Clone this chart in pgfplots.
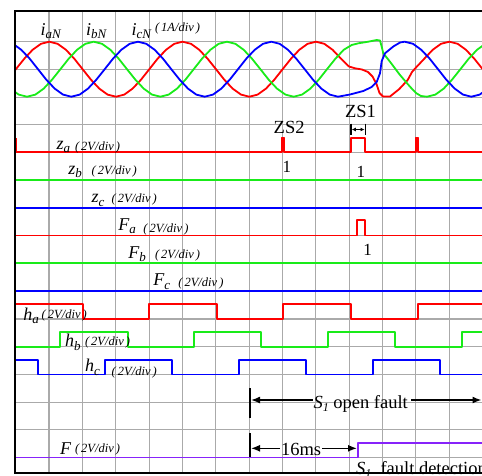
\documentclass[border=0pt]{standalone}
\usepackage{pgfplots}
\pgfplotsset{compat=1.18}
\usetikzlibrary{arrows.meta}
\usepackage{fontspec}
\setmainfont{Liberation Serif}
\definecolor{cr}{RGB}{255,0,0}
\definecolor{cg}{RGB}{25,235,25}
\definecolor{cb}{RGB}{0,0,255}
\definecolor{cp}{RGB}{135,35,250}
\definecolor{gridc}{RGB}{170,170,170}
\newcommand{\sig}[2]{\fontsize{18}{18}\selectfont\textit{#1}\raisebox{-3.5pt}{\fontsize{13}{13}\selectfont\textit{#2}}}
\newcommand{\dv}[1]{\fontsize{12.5}{12.5}\selectfont\textit{(\,#1\,)}}
\newcommand{\tx}{\fontsize{18.5}{18.5}\selectfont}
\begin{document}
\begin{tikzpicture}
\begin{axis}[x=1pt, y=1pt, y dir=reverse, xmin=0, xmax=482, ymin=0, ymax=475,
  hide axis, clip=false, enlargelimits=false, no markers,
  every axis plot/.append style={line width=1.8pt, line join=round}]
\coordinate (TL) at (axis cs:0,0);
\coordinate (BR) at (axis cs:482,475);
% grid
\pgfplotsinvokeforeach{49,82.4,115.7,149.1,182.4,215.8,249.2,282.5,315.9,349.2,382.6,415.9,449.3}{
  \draw[gridc, line width=1.1pt] (axis cs:#1,11) -- (axis cs:#1,473);}
\pgfplotsinvokeforeach{41.7,69.4,97.2,124.9,152.6,180.4,208.1,235.8,263.5,291.3,319.0,346.7,374.5,402.2,429.9,457.7}{
  \draw[gridc, line width=1.1pt] (axis cs:15,#1) -- (axis cs:482,#1);}
% currents
\addplot[cr] coordinates {(15.2,70)(24.3,58.7)(32.6,49.8)(41.0,43.8)(49.3,41.7)(57.6,43.8)(66.0,49.8)(74.3,58.7)(82.6,69.2)(91.0,79.7)(99.3,88.6)(107.6,94.6)(116.0,96.7)(124.3,94.6)(132.6,88.6)(141.0,79.7)(149.3,69.2)(157.6,58.7)(166.0,49.8)(174.3,43.8)(182.6,41.7)(191.0,43.8)(199.3,49.8)(207.6,58.7)(216.0,69.2)(224.3,79.7)(232.6,88.6)(241.0,94.6)(249.3,96.7)(257.6,94.6)(266.0,88.6)(274.3,79.7)(282.6,69.2)(291.0,58.7)(299.3,49.8)(307.6,43.8)(316.0,41.7)(324.3,43.8)(332.6,49.8)(341.0,58.7)(349,66.5)(355,68.3)(362,69.5)(368,72)(372.5,76.5)(376.5,84)(379.5,93)(383,96.5)(390,96.5)(399.3,89)(407.7,80)(412,72)(416,67.5)(424.3,58.7)(432.7,49.8)(441,43.8)(449.3,41.7)(457.7,43.8)(466,49.8)(474.3,58.7)(482.7,69.2)};
\addplot[cg] coordinates {(15.5,92.3)(18.7,94.6)(27.0,96.7)(35.4,94.6)(43.7,88.6)(52.0,79.7)(60.4,69.2)(68.7,58.7)(77.0,49.8)(85.4,43.8)(93.7,41.7)(102.0,43.8)(110.4,49.8)(118.7,58.7)(127.0,69.2)(135.4,79.7)(143.7,88.6)(152.0,94.6)(160.4,96.7)(168.7,94.6)(177.0,88.6)(185.4,79.7)(193.7,69.2)(202.0,58.7)(210.4,49.8)(218.7,43.8)(227.0,41.7)(235.4,43.8)(243.7,49.8)(252.0,58.7)(260.4,69.2)(268.7,79.7)(277.0,88.6)(285.4,94.6)(293.7,96.7)(302.0,94.6)(310.4,88.6)(318.7,79.7)(327.0,69.2)(335.4,58.7)(343.7,49.8)(351.7,45)(358.3,43.3)(368.3,41.7)(376.7,40)(380,40.5)(381.7,46.7)(383.3,53.3)(390,61.7)(400,75)(410,86.7)(416,93)(421,96)(427.0,96.7)(435.4,94.6)(443.7,88.6)(452.0,79.7)(460.4,69.2)(468.7,58.7)(477.0,49.8)(485.4,43.8)};
\addplot[cb] coordinates {(15.5,45.6)(21.3,49.8)(29.7,58.7)(38.0,69.2)(46.3,79.7)(54.7,88.6)(63.0,94.6)(71.3,96.7)(79.7,94.6)(88.0,88.6)(96.3,79.7)(104.7,69.2)(113.0,58.7)(121.3,49.8)(129.7,43.8)(138.0,41.7)(146.3,43.8)(154.7,49.8)(163.0,58.7)(171.3,69.2)(179.7,79.7)(188.0,88.6)(196.3,94.6)(204.7,96.7)(213.0,94.6)(221.3,88.6)(229.7,79.7)(238.0,69.2)(246.3,58.7)(254.7,49.8)(263.0,43.8)(271.3,41.7)(279.7,43.8)(288.0,49.8)(296.3,58.7)(304.7,69.2)(313.0,79.7)(321.3,88.6)(329.7,94.6)(338.0,96.7)(350,94.5)(363.3,91)(371.7,87)(376.7,82)(380,73.3)(381.7,61)(385,53.3)(393.3,46.5)(400,42.5)(404.7,41.7)(413.0,43.8)(421.3,49.8)(429.7,58.7)(438.0,69.2)(446.3,79.7)(454.7,88.6)(463.0,94.6)(471.3,96.7)(479.7,94.6)(488.0,88.6)};
% z and F signals
\addplot[cr] coordinates {(16,138)(16,152)(281.7,152)(281.7,137.5)(284.3,137.5)(284.3,152)(351,152)(351,138.3)(365.3,138.3)(365.3,152)(416.3,152)(416.3,137.5)(418.3,137.5)(418.3,152)(482,152)};
\addplot[cg] coordinates {(15,180)(482,180)};
\addplot[cb] coordinates {(15,208)(482,208)};
\addplot[cr] coordinates {(15,235.5)(357,235.5)(357,220)(365.3,220)(365.3,235.5)(482,235.5)};
\addplot[cg] coordinates {(15,263)(482,263)};
\addplot[cb] coordinates {(15,291)(482,291)};
% h signals
\addplot[cr] coordinates {(15,304.3)(82.7,304.3)(82.7,319)(149,319)(149,304.3)(216.7,304.3)(216.7,319)(283.3,319)(283.3,304.3)(351,304.3)(351,319)(417.7,319)(417.7,304.3)(482,304.3)};
\addplot[cg] coordinates {(15,346.7)(60,346.7)(60,332.3)(127.7,332.3)(127.7,346.7)(194.3,346.7)(194.3,332.3)(261,332.3)(261,346.7)(328.3,346.7)(328.3,332.3)(395,332.3)(395,346.7)(461.7,346.7)(461.7,332.3)(482,332.3)};
\addplot[cb] coordinates {(15,360)(37.7,360)(37.7,374.5)(105,374.5)(105,360)(172.3,360)(172.3,374.5)(239,374.5)(239,360)(306,360)(306,374.5)(373.3,374.5)(373.3,360)(440,360)(440,374.5)(482,374.5)};
\addplot[cp] coordinates {(15,457.5)(357.7,457.5)(357.7,442.7)(482,442.7)};
% borders
\draw[black, line width=2pt] (axis cs:482,10.8) -- (axis cs:15,10.8) -- (axis cs:15,473.3) -- (axis cs:482,473.3);
% labels
\begin{scope}[every node/.style={inner sep=0pt, outer sep=0pt}]
\node[anchor=base west] at (axis cs:40.5,35) {\sig{i}{aN}};
\node[anchor=base west] at (axis cs:86,35) {\sig{i}{bN}};
\node[anchor=base west] at (axis cs:131.5,35) {\sig{i}{cN}};
\node[anchor=base west] at (axis cs:155,31.5) {\dv{1A/div}};
\node[anchor=base west] at (axis cs:56.5,149.3) {\sig{z}{a}};
\node[anchor=base west] at (axis cs:75,150.5) {\dv{2V/div}};
\node[anchor=base west] at (axis cs:68.3,174.3) {\sig{z}{b}};
\node[anchor=base west] at (axis cs:91.7,174) {\dv{2V/div}};
\node[anchor=base west] at (axis cs:91.7,202.7) {\sig{z}{c}};
\node[anchor=base west] at (axis cs:111.7,202) {\dv{2V/div}};
\node[anchor=base west] at (axis cs:118.3,230) {\sig{F}{a}};
\node[anchor=base west] at (axis cs:143.3,232) {\dv{2V/div}};
\node[anchor=base west] at (axis cs:128.3,258.3) {\sig{F}{b}};
\node[anchor=base west] at (axis cs:155,258.5) {\dv{2V/div}};
\node[anchor=base west] at (axis cs:153.3,285.7) {\sig{F}{c}};
\node[anchor=base west] at (axis cs:178.3,286.5) {\dv{2V/div}};
\node[anchor=base west] at (axis cs:23.3,320) {\sig{h}{a}};
\node[anchor=base west] at (axis cs:41.7,318) {\dv{2V/div}};
\node[anchor=base west] at (axis cs:65,346.7) {\sig{h}{b}};
\node[anchor=base west] at (axis cs:85,345) {\dv{2V/div}};
\node[anchor=base west] at (axis cs:85,371.7) {\sig{h}{c}};
\node[anchor=base west] at (axis cs:111.7,375) {\dv{2V/div}};
\node[anchor=base west] at (axis cs:60,454) {\sig{F}{}};
\node[anchor=base west] at (axis cs:75,452) {\dv{2V/div}};
\node[anchor=base west] at (axis cs:273.7,133) {\tx ZS2};
\node[anchor=base west] at (axis cs:345,117.3) {\tx ZS1};
\node[anchor=base] at (axis cs:286.8,172.7) {\fontsize{17}{17}\selectfont 1};
\node[anchor=base] at (axis cs:360.8,177.3) {\fontsize{17}{17}\selectfont 1};
\node[anchor=base] at (axis cs:367.5,255.7) {\fontsize{17}{17}\selectfont 1};
\node[anchor=base west] at (axis cs:313.5,408.3) {\tx\textit{S}\raisebox{-3pt}{\fontsize{12}{12}\selectfont\textit{1}} open fault};
\node[anchor=base west] at (axis cs:281,455) {\tx 16ms};
\node[anchor=base west] at (axis cs:356,474) {\tx\textit{S}\raisebox{-3pt}{\fontsize{12}{12}\selectfont\textit{1}}\ \ fault detection};
\end{scope}
% arrows
\draw[black, line width=1.8pt] (axis cs:251,126) -- (axis cs:251,126);
\draw[black, line width=1.5pt] (axis cs:351,123.5) -- (axis cs:351,135);
\draw[black, line width=1.5pt] (axis cs:365.3,123.5) -- (axis cs:365.3,135);
\draw[black, line width=1.2pt, {Latex[length=4pt,width=4pt]}-{Latex[length=4pt,width=4pt]}] (axis cs:351.8,129.5) -- (axis cs:364.5,129.5);
\draw[black, line width=2pt] (axis cs:250,388) -- (axis cs:250,418.3);
\draw[black, line width=1.5pt, -{Latex[length=9pt,width=7pt]}] (axis cs:312.5,400) -- (axis cs:251,400);
\draw[black, line width=1.5pt, -{Latex[length=9pt,width=7pt]}] (axis cs:411,400) -- (axis cs:481.5,400);
\draw[black, line width=2pt] (axis cs:250,433) -- (axis cs:250,457);
\draw[black, line width=1.5pt, -{Latex[length=9pt,width=7pt]}] (axis cs:280,448.3) -- (axis cs:251,448.3);
\draw[black, line width=1.5pt, -{Latex[length=9pt,width=7pt]}] (axis cs:322,448.3) -- (axis cs:357,448.3);
\end{axis}
\pgfresetboundingbox
\path[use as bounding box] (TL) rectangle (BR);
\end{tikzpicture}
\end{document}
